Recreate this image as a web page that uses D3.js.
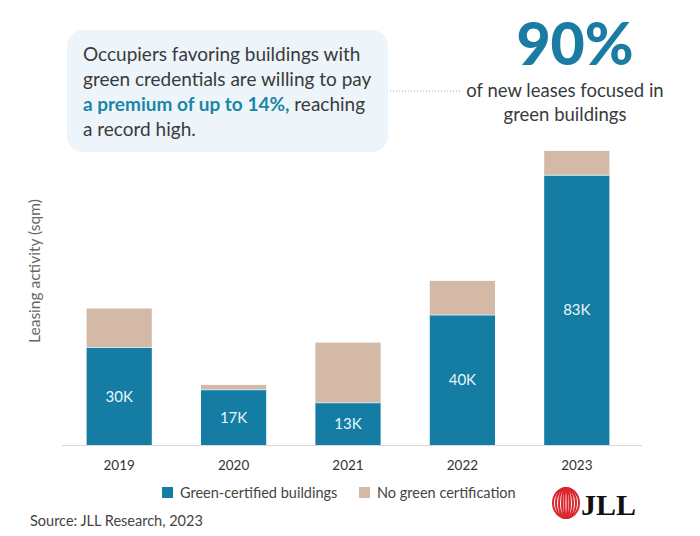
<!DOCTYPE html>
<html><head><meta charset="utf-8">
<script src="https://cdn.jsdelivr.net/npm/d3@7"></script>
<style>
html,body{margin:0;padding:0;background:#fff;}
svg{display:block;font-family:Lato,"Open Sans",sans-serif;}
</style></head>
<body>
<svg id="chart" width="700" height="536"></svg>
<script>
const years = ["2019","2020","2021","2022","2023"];
const greenCertified = [30,17,13,40,83];
const noCertification = [12,1.5,18.5,10.5,7.5];
const greenLabels = ["30K","17K","13K","40K","83K"];
const seriesNames = ["Green-certified buildings","No green certification"];
const colors = ["#157ca3","#d3b9a6"];

const svg = d3.select("#chart");
const baseline = 445;
const x = d3.scaleBand().domain(years).range([62,634]).paddingInner(0.43).paddingOuter(0.215);
const y = d3.scaleLinear().domain([0,100]).range([baseline, baseline-325]);

const rows = years.map((yr,i)=>({year:yr, green:greenCertified[i], none:noCertification[i], label:greenLabels[i]}));
const stack = d3.stack().keys(["green","none"])(rows);

// callout box
svg.append("rect").attr("x",67).attr("y",30).attr("width",321).attr("height",122)
  .attr("rx",16).attr("fill","#edf5fb");
const callLines = [
  [{t:"Occupiers favoring buildings with"}],
  [{t:"green credentials are willing to pay"}],
  [{t:"a premium of up to 14%,",b:true},{t:" reaching"}],
  [{t:"a record high."}]
];
callLines.forEach((ln,i)=>{
  const tx = svg.append("text").attr("x",83).attr("y",61+i*25)
    .attr("font-size",19).attr("fill","#3a3a3a");
  ln.forEach(s=>{
    tx.append("tspan").text(s.t)
      .attr("font-weight",s.b?700:400)
      .attr("fill",s.b?"#1b86a6":"#3a3a3a");
  });
});

// dotted connector
svg.append("line").attr("x1",390).attr("x2",462).attr("y1",91).attr("y2",91)
  .attr("stroke","#aaa").attr("stroke-width",1).attr("stroke-dasharray","1,2");

// 90%
svg.append("text").attr("x",575).attr("y",65).attr("text-anchor","middle")
  .attr("font-size",59).attr("font-weight",900).attr("fill","#1a7ca3").text("90%");
svg.append("text").attr("x",565).attr("y",97).attr("text-anchor","middle")
  .attr("font-size",18.5).attr("fill","#3a3a3a").text("of new leases focused in");
svg.append("text").attr("x",565).attr("y",121).attr("text-anchor","middle")
  .attr("font-size",18.5).attr("fill","#3a3a3a").text("green buildings");

// bars
svg.append("g").selectAll("g").data(stack).join("g")
  .attr("fill",(d,i)=>colors[i])
  .selectAll("rect").data(d=>d).join("rect")
  .attr("x",d=>x(d.data.year)).attr("width",x.bandwidth())
  .attr("y",d=>y(d[1])).attr("height",d=>y(d[0])-y(d[1]));

// separator lines between segments
svg.append("g").selectAll("line").data(rows).join("line")
  .attr("x1",d=>x(d.year)).attr("x2",d=>x(d.year)+x.bandwidth())
  .attr("y1",d=>y(d.green)).attr("y2",d=>y(d.green))
  .attr("stroke","#cfe6ef").attr("stroke-width",1);

// bar labels
svg.append("g").selectAll("text").data(rows).join("text")
  .attr("x",d=>x(d.year)+x.bandwidth()/2)
  .attr("y",d=>(y(0)+y(d.green))/2)
  .attr("dy","0.35em").attr("text-anchor","middle")
  .attr("font-size",15).attr("fill","#eaf5f9").text(d=>d.label);

// x axis
const xAxis = svg.append("g").attr("transform",`translate(0,${baseline})`)
  .call(d3.axisBottom(x).tickSize(0).tickPadding(15));
xAxis.select(".domain").remove();
xAxis.selectAll("text").attr("font-size",13.5).attr("fill","#333").attr("font-family","Lato,sans-serif");
svg.append("line").attr("x1",62).attr("x2",642).attr("y1",baseline+0.5).attr("y2",baseline+0.5)
  .attr("stroke","#d8d8d8").attr("stroke-width",1.2);

// y label
svg.append("text").attr("transform","translate(40,271) rotate(-90)")
  .attr("text-anchor","middle").attr("font-size",15.5).attr("fill","#666")
  .text("Leasing activity (sqm)");

// legend
const legX = [162,359];
seriesNames.forEach((n,i)=>{
  svg.append("rect").attr("x",legX[i]).attr("y",487).attr("width",11).attr("height",11).attr("fill",colors[i]);
  svg.append("text").attr("x",legX[i]+18).attr("y",497.5).attr("font-size",14.5).attr("fill","#444").text(n);
});

// source
svg.append("text").attr("x",30).attr("y",526).attr("font-size",14.5).attr("fill","#444").text("Source: JLL Research, 2023");

// JLL logo
const logo = svg.append("g").attr("transform","translate(566,503)");
[13,10,7,4,1.5].forEach(rx=>{
  logo.append("ellipse").attr("rx",rx).attr("ry",15).attr("fill","none")
    .attr("stroke","#d9262e").attr("stroke-width",2);
});
svg.append("text").attr("x",581).attr("y",515).attr("font-size",30).attr("font-weight",700)
  .attr("font-family","'Liberation Serif','DejaVu Serif',serif").attr("fill","#111").text("JLL");
</script>
</body></html>
